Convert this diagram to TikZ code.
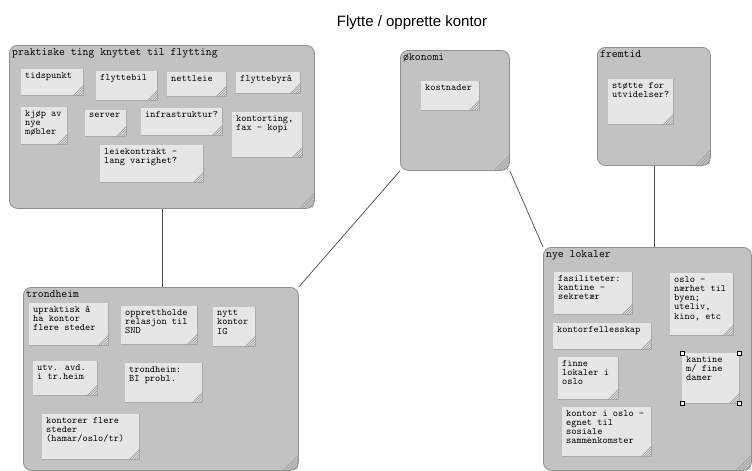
\documentclass[tikz,border=0pt]{standalone}
\usepackage{fontspec}
\setmainfont{Liberation Sans}

\definecolor{groupfill}{HTML}{C2C2C2}
\definecolor{groupedge}{HTML}{909090}
\definecolor{notefill}{HTML}{E6E6E6}
\definecolor{noteedge}{HTML}{A9A9A9}
\definecolor{hatchgray}{HTML}{8C8C8C}
\definecolor{linkgray}{HTML}{4A4A4A}

\tikzset{
  groupbox/.style={draw=groupedge, line width=0.8pt, fill=groupfill, rounded corners=8pt,
    anchor=north west, inner sep=0pt},
  grouptitle/.style={anchor=north west, inner xsep=3pt, inner ysep=3pt,
    font=\ttfamily\fontsize{11.4}{13}\selectfont},
  notebox/.style={fill=notefill, draw=none, anchor=north west, inner sep=0pt},
  noteshade/.style={draw=noteedge, line width=0.9pt},
  notetext/.style={anchor=north west, align=left, inner xsep=4pt, inner ysep=3pt,
    font=\ttfamily\fontsize{9.9}{9.2}\selectfont},
  hatchline/.style={draw=hatchgray, line width=0.5pt},
  link/.style={draw=linkgray, line width=0.7pt},
  handle/.style={draw=black, fill=white, line width=0.5pt, minimum size=3.5pt, inner sep=0pt},
  titletext/.style={font=\fontsize{15}{18}\selectfont, anchor=base}
}

% sticky note: name, x, y, width, height, text
\newcommand\stickynote[6]{%
  \node[notebox, minimum width=#4pt, minimum height=#5pt] (#1) at (#2,#3) {};
  \draw[noteshade] (#1.north east) -- (#1.south east) -- (#1.south west);
  \foreach \k in {2.5,5,7.5,10}
    \draw[hatchline] ([xshift=-\k pt]#1.south east) -- ([yshift=\k pt]#1.south east);
  \node[notetext] (#1-t) at (#1.north west) {#6};
}

% group panel: name, x, y, width, height, title
\newcommand\grouppanel[6]{%
  \node[groupbox, minimum width=#4pt, minimum height=#5pt] (#1) at (#2,#3) {};
  \foreach \k in {3,6,9,12,15}
    \draw[hatchline] ([xshift=-\k pt,yshift=1pt]#1.south east) -- ([xshift=-1pt,yshift=\k pt]#1.south east);
  \node[grouptitle] (#1-t) at (#1.north west) {#6};
}

\begin{document}
\begin{tikzpicture}[x=1pt, y=-1pt]
\useasboundingbox[fill=white] (0,0) rectangle (752,471);

\node[titletext] (title) at (412,26) {Flytte / opprette kontor};

% panels
\grouppanel{prak}{9}{45}{305}{163}{praktiske ting knyttet til flytting}
\grouppanel{oko}{400}{50}{109}{120}{økonomi}
\grouppanel{frem}{597}{47}{113}{118}{fremtid}
\grouppanel{tron}{23}{287}{275}{183}{trondheim}
\grouppanel{nye}{543}{247}{208}{223}{nye lokaler}

% connectors between panels
\draw[link] (prak.south) -- (prak.south |- tron.north);
\draw[link] (oko.south west) -- (tron.north east);
\draw[link] (oko.south east) -- (nye.north west);
\draw[link] (frem.south) -- (frem.south |- nye.north);

% praktiske ting
\stickynote{tid}{21}{69}{62}{26}{tidspunkt}
\stickynote{bil}{96}{71}{61}{29}{flyttebil}
\stickynote{nett}{167}{72}{59}{24}{nettleie}
\stickynote{byra}{236}{72}{64}{21}{flyttebyrå}
\stickynote{mob}{21}{107}{46}{37}{kjøp av\\nye\\møbler}
\stickynote{serv}{85}{110}{41}{26}{server}
\stickynote{infra}{141}{108}{81}{27}{infrastruktur?}
\stickynote{kont}{232}{112}{70}{45}{kontorting,\\fax - kopi}
\stickynote{leie}{100}{145}{103}{37}{leiekontrakt -\\lang varighet?}

% økonomi
\stickynote{kost}{421}{81}{58}{29}{kostnader}

% fremtid
\stickynote{stotte}{608}{79}{65}{45}{støtte for\\utvidelser?}

% trondheim
\stickynote{uprak}{29}{303}{79}{42}{upraktisk å\\ha kontor\\flere steder}
\stickynote{snd}{121}{306}{76}{38}{opprettholde\\relasjon til\\SND}
\stickynote{ig}{213}{307}{42}{39}{nytt\\kontor\\IG}
\stickynote{utv}{33}{361}{64}{34}{utv. avd.\\i tr.heim}
\stickynote{bi}{125}{363}{77}{39}{trondheim:\\BI probl.}
\stickynote{flere}{42}{414}{97}{45}{kontorer flere\\steder\\(hamar/oslo/tr)}

% nye lokaler
\stickynote{fas}{554}{272}{78}{42}{fasiliteter:\\kantine -\\sekretær}
\stickynote{fell}{553}{323}{98}{26}{kontorfellesskap}
\stickynote{finne}{558}{357}{60}{42}{finne\\lokaler i\\oslo}
\stickynote{sos}{562}{407}{89}{49}{kontor i oslo -\\egnet til\\sosiale\\sammenkomster}
\stickynote{oslo}{670}{273}{63}{62}{oslo -\\nærhet til\\byen;\\uteliv,\\kino, etc}
\stickynote{kant}{682}{353}{57}{50}{kantine\\m/ fine\\damer}

% selection handles
\foreach \a/\i in {north west/1, north east/2, south west/3, south east/4}
  \node[handle] (kant-h\i) at (kant.\a) {};
\end{tikzpicture}
\end{document}
